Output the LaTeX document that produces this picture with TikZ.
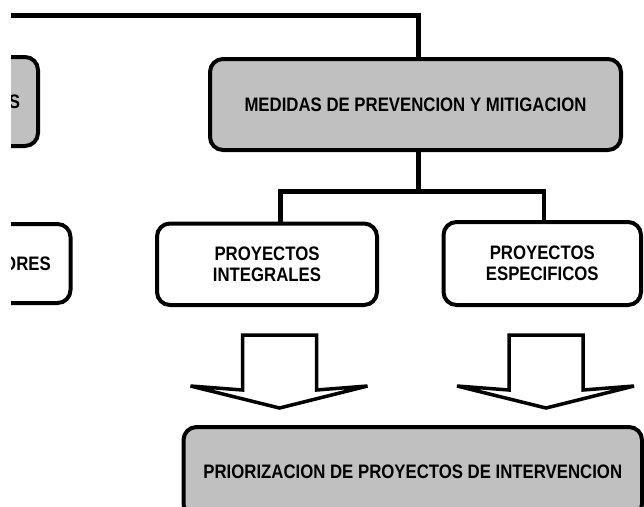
\documentclass[tikz,border=0pt]{standalone}
\usepackage{fontspec}
\setmainfont{Liberation Sans}[FakeStretch=0.86]
\definecolor{boxgrey}{HTML}{C0C0C0}
\tikzset{
  blockarrow/.pic={
    \draw[arrowline] (-37,0) -- (37,0) -- (37,55) -- (88,51) -- (0,73)
      -- (-89,51) -- (-37,55) -- cycle;
  }
}
\begin{document}
\begin{tikzpicture}[x=1pt,y=-1pt,
  box/.style={draw, rounded corners=13pt, line width=4pt, align=center,
    inner sep=0pt, font=\fontsize{19.5}{21}\selectfont\bfseries},
  greybox/.style={box, fill=boxgrey},
  whitebox/.style={box, fill=white},
  link/.style={line width=4.5pt, line join=miter},
  arrowline/.style={draw, fill=white, line width=3.5pt, line join=miter}]
\useasboundingbox (0,0) rectangle (644,506);
\begin{scope}
\clip (11,-10) rectangle (650,520);
% boxes
\node[greybox, minimum width=47pt, minimum height=89pt] (leftA) at (14.5,101.5) {S};
\node[whitebox, minimum width=87pt, minimum height=79pt] (leftB) at (27,263.5) {ORES};
\node[greybox, minimum width=411pt, minimum height=91pt] (medidas) at (415.5,104.5)
  {MEDIDAS DE PREVENCION Y MITIGACION};
\node[whitebox, minimum width=220pt, minimum height=81.5pt] (integrales) at (267,264.25)
  {PROYECTOS\\INTEGRALES};
\node[whitebox, minimum width=197.5pt, minimum height=83pt] (especificos) at (542.25,263.5)
  {PROYECTOS\\ESPECIFICOS};
\node[greybox, minimum width=458.5pt, minimum height=90pt] (prior) at (412.75,472)
  {PRIORIZACION DE PROYECTOS DE INTERVENCION};
% connectors
\coordinate (tl) at (0,15.5);
\draw[link] (tl) -| ([xshift=3pt]medidas.north);
\draw[link] ([xshift=3pt]medidas.south) -- ++(0,39.5) coordinate (j);
\draw[link] ([xshift=13.5pt]integrales.north) |- (j) -| ([xshift=1.75pt]especificos.north);
% block arrows
\pic at (279.5,335) {blockarrow};
\pic at (546,335) {blockarrow};
\end{scope}
\end{tikzpicture}
\end{document}
